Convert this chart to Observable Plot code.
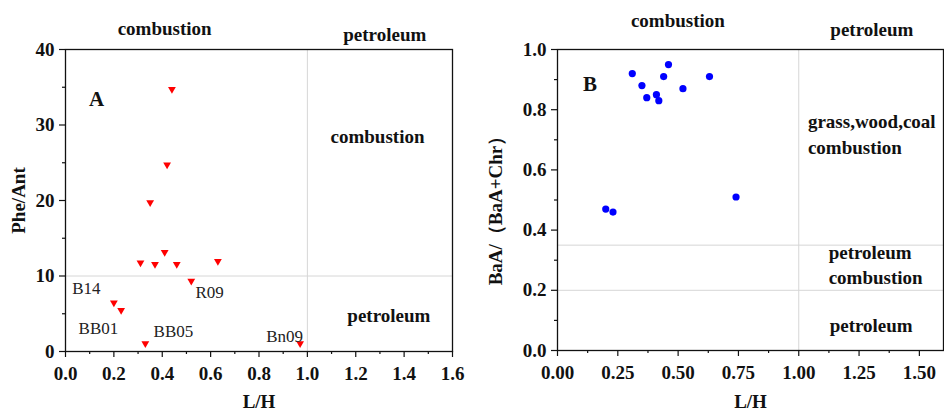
<!DOCTYPE html>
<html><head><meta charset="utf-8">
<script src="https://cdn.jsdelivr.net/npm/d3@7"></script>
<script src="https://cdn.jsdelivr.net/npm/@observablehq/plot@0.6"></script>
<style>
body{margin:0;background:#fff;}
#wrap{position:relative;width:944px;height:413px;overflow:hidden;background:#fff;}
#wrap svg{position:absolute;top:0;}
</style></head><body><div id="wrap"></div>
<script>
// ---- Panel A data: L/H vs Phe/Ant ----
const lhA = [0.44, 0.42, 0.35, 0.41, 0.31, 0.37, 0.46, 0.63, 0.52, 0.20, 0.23, 0.33, 0.97];
const pheAnt = [34.6, 24.6, 19.6, 13.0, 11.6, 11.4, 11.4, 11.8, 9.2, 6.3, 5.3, 0.9, 0.9];
const sampleNames = ["B14", "BB01", "BB05", "R09", "Bn09"];
const sampleLabelX = [0.028, 0.054, 0.364, 0.537, 0.83];
const sampleLabelY = [8.3, 3.0, 2.6, 7.8, 2.0];
const regionTextA = ["combustion", "petroleum", "combustion", "petroleum"];
const regionXA = [0.41, 1.32, 1.29, 1.337];
const regionYA = [42.7, 41.9, 28.4, 4.74];
const xTicksA = [0, 0.2, 0.4, 0.6, 0.8, 1.0, 1.2, 1.4, 1.6];
const xMinorA = [0.1, 0.3, 0.5, 0.7, 0.9, 1.1, 1.3, 1.5];
const yTicksA = [0, 10, 20, 30, 40];
const yMinorA = [5, 15, 25, 35];

// ---- Panel B data: L/H vs BaA/(BaA+Chr) ----
const lhB = [0.31, 0.46, 0.35, 0.44, 0.63, 0.37, 0.41, 0.42, 0.52, 0.20, 0.23, 0.74];
const baaRatio = [0.92, 0.95, 0.88, 0.91, 0.91, 0.84, 0.85, 0.83, 0.87, 0.47, 0.46, 0.51];
const regionTextBTop = ["combustion", "petroleum"];
const regionXBTop = [0.499, 1.303];
const regionYBTop = [1.095, 1.064];
const regionTextBSide = ["grass,wood,coal", "combustion", "petroleum", "combustion", "petroleum"];
const regionXBSide = [1.038, 1.038, 1.124, 1.124, 1.128];
const regionYBSide = [0.759, 0.674, 0.325, 0.242, 0.081];
const xTicksB = [0, 0.25, 0.5, 0.75, 1.0, 1.25, 1.5];
const xMinorB = [0.125, 0.375, 0.625, 0.875, 1.125, 1.375];
const yTicksB = [0, 0.2, 0.4, 0.6, 0.8, 1.0];
const yMinorB = [0.1, 0.3, 0.5, 0.7, 0.9];

const SERIF = "'Liberation Serif', 'Times New Roman', serif";
const GRID = "#d6d6d6";

const triDown = {
  draw(ctx, size) {
    const s = Math.sqrt(size * 4 / Math.sqrt(3));
    const h = s * Math.sqrt(3) / 2;
    ctx.moveTo(-s / 2, -h / 2);
    ctx.lineTo(s / 2, -h / 2);
    ctx.lineTo(0, h / 2);
    ctx.closePath();
  }
};

const dataA = lhA.map((x, i) => ({x, y: pheAnt[i]}));
const labelsA = sampleNames.map((t, i) => ({t, x: sampleLabelX[i], y: sampleLabelY[i]}));
const regionsA = regionTextA.map((t, i) => ({t, x: regionXA[i], y: regionYA[i]}));

const plotA = Plot.plot({
  width: 470, height: 413,
  marginLeft: 65, marginRight: 18, marginTop: 49, marginBottom: 62,
  style: {fontFamily: SERIF, fontSize: "19px", fontWeight: "bold", color: "#111", background: "transparent", overflow: "visible"},
  x: {domain: [0, 1.6]},
  y: {domain: [0, 40]},
  marks: [
    Plot.ruleX([1.0], {stroke: GRID, strokeWidth: 1}),
    Plot.ruleY([10], {stroke: GRID, strokeWidth: 1}),
    Plot.axisX(xTicksA, {tickSize: 6, tickPadding: 9, tickFormat: d => d.toFixed(1), label: null, strokeWidth: 1.2}),
    Plot.axisX(xMinorA, {tickSize: 3, tickFormat: () => "", label: null, strokeWidth: 1.2}),
    Plot.axisY(yTicksA, {tickSize: 6, tickPadding: 5, tickFormat: d => String(d), label: null, strokeWidth: 1.2}),
    Plot.axisY(yMinorA, {tickSize: 3, tickFormat: () => "", label: null, strokeWidth: 1.2}),
    Plot.frame({stroke: "#111", strokeWidth: 1.3}),
    Plot.dot(dataA, {x: "x", y: "y", symbol: triDown, r: 2.9, fill: "#ff0000", stroke: "none"}),
    Plot.text(labelsA, {x: "x", y: "y", text: "t", textAnchor: "start", lineAnchor: "middle", fontWeight: "normal", fontSize: 17, fill: "#222"}),
    Plot.text(regionsA, {x: "x", y: "y", text: "t", textAnchor: "middle", lineAnchor: "middle", fontSize: 19, fill: "#111"}),
    Plot.text(["A"], {x: 0.128, y: 33.4, textAnchor: "middle", lineAnchor: "middle", fontSize: 21, fill: "#111"}),
    Plot.text(["Phe/Ant"], {frameAnchor: "left", dx: -47, rotate: -90, textAnchor: "middle", lineAnchor: "middle", fontSize: 19, fill: "#111"}),
    Plot.text(["L/H"], {frameAnchor: "bottom", dy: 50, textAnchor: "middle", lineAnchor: "middle", fontSize: 19, fill: "#111"})
  ]
});
plotA.style.left = "0px";

const dataB = lhB.map((x, i) => ({x, y: baaRatio[i]}));
const regionsBTop = regionTextBTop.map((t, i) => ({t, x: regionXBTop[i], y: regionYBTop[i]}));
const regionsBSide = regionTextBSide.map((t, i) => ({t, x: regionXBSide[i], y: regionYBSide[i]}));

const plotB = Plot.plot({
  width: 474, height: 413,
  marginLeft: 87, marginRight: 1, marginTop: 49, marginBottom: 63,
  style: {fontFamily: SERIF, fontSize: "19px", fontWeight: "bold", color: "#111", background: "transparent", overflow: "visible"},
  x: {domain: [0, 1.6]},
  y: {domain: [0, 1.0]},
  marks: [
    Plot.ruleX([1.0], {stroke: GRID, strokeWidth: 1}),
    Plot.ruleY([0.35, 0.2], {stroke: GRID, strokeWidth: 1}),
    Plot.axisX(xTicksB, {tickSize: 6, tickPadding: 9, tickFormat: d => d.toFixed(2), label: null, strokeWidth: 1.2}),
    Plot.axisX(xMinorB, {tickSize: 3, tickFormat: () => "", label: null, strokeWidth: 1.2}),
    Plot.axisY(yTicksB, {tickSize: 6, tickPadding: 5, tickFormat: d => d.toFixed(1), label: null, strokeWidth: 1.2}),
    Plot.axisY(yMinorB, {tickSize: 3, tickFormat: () => "", label: null, strokeWidth: 1.2}),
    Plot.frame({stroke: "#111", strokeWidth: 1.3}),
    Plot.dot(dataB, {x: "x", y: "y", r: 3.6, fill: "#0000ff", stroke: "none"}),
    Plot.text(regionsBTop, {x: "x", y: "y", text: "t", textAnchor: "middle", lineAnchor: "middle", fontSize: 19, fill: "#111"}),
    Plot.text(regionsBSide, {x: "x", y: "y", text: "t", textAnchor: "start", lineAnchor: "middle", fontSize: 19, fill: "#111"}),
    Plot.text(["B"], {x: 0.135, y: 0.884, textAnchor: "middle", lineAnchor: "middle", fontSize: 21, fill: "#111"}),
    Plot.text(["BaA/（BaA+Chr）"], {frameAnchor: "left", dx: -62, dy: 6, rotate: -90, textAnchor: "middle", lineAnchor: "middle", fontSize: 19, fill: "#111"}),
    Plot.text(["L/H"], {frameAnchor: "bottom", dy: 51, textAnchor: "middle", lineAnchor: "middle", fontSize: 19, fill: "#111"})
  ]
});
plotB.style.left = "470px";

const wrap = document.getElementById("wrap");
wrap.appendChild(plotA);
wrap.appendChild(plotB);
</script>
</body></html>
